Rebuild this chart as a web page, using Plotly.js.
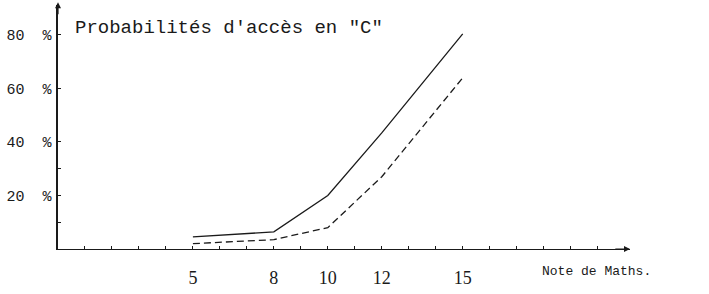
<!DOCTYPE html>
<html>
<head>
<meta charset="utf-8">
<script src="https://cdn.plot.ly/plotly-3.0.1.min.js"></script>
<style>html,body{margin:0;padding:0;background:#fff;}#chart{width:709px;height:294px;}</style>
</head>
<body>
<div id="chart"></div>
<script>
// Data
const notes = [5, 8, 10, 12, 15];
const probSolid = [4.5, 6.4, 20, 43.4, 80.4];
const probDashed = [2, 3.5, 8, 27, 64];

// Axis ticks and labels
const xTickVals = [1,2,3,4,5,6,7,8,9,10,11,12,13,14,15,16,17,18,19,20];
const xLabeled = [5, 8, 10, 12, 15];
const yTickVals = [10, 20, 30, 40, 60, 80];
const yLabeled = [20, 40, 60, 80];

const xMax = 21.2, yMax = 91.2;
const NB = '\u00a0';

const xTickText = xTickVals.map(v => xLabeled.includes(v) ? String(v) : '');
const yTickText = yTickVals.map(v => yLabeled.includes(v) ? (v + NB + NB + '%') : '');

const ink = '#1a1a1a';

const traces = [
  {x: notes, y: probSolid, mode: 'lines', line: {color: ink, width: 1.3}, hoverinfo: 'skip'},
  {x: notes, y: probDashed, mode: 'lines', line: {color: ink, width: 1.3, dash: '7px,4px'}, hoverinfo: 'skip'}
];

const layout = {
  width: 709, height: 294,
  margin: {l: 58, r: 79, t: 5, b: 45},
  paper_bgcolor: '#fff', plot_bgcolor: '#fff',
  showlegend: false,
  xaxis: {
    range: [0, xMax], showgrid: false, zeroline: false,
    showline: true, linecolor: ink, linewidth: 1.3,
    tickmode: 'array', tickvals: xTickVals, ticktext: xTickText,
    ticks: 'inside', ticklen: 3, tickwidth: 1, tickcolor: ink,
    ticklabelstandoff: 12,
    tickfont: {family: 'Liberation Serif', size: 18, color: ink}
  },
  yaxis: {
    range: [0, yMax], showgrid: false, zeroline: false,
    showline: true, linecolor: ink, linewidth: 1.6,
    tickmode: 'array', tickvals: yTickVals, ticktext: yTickText,
    ticks: 'inside', ticklen: 3, tickwidth: 1, tickcolor: ink,
    ticklabelstandoff: 2,
    tickfont: {family: 'Liberation Mono', size: 15, color: ink}
  },
  annotations: [
    {xref: 'paper', yref: 'paper', x: 0.026, y: 0.906, xanchor: 'left', yanchor: 'middle',
     text: 'Probabilités d\'accès en "C"', showarrow: false,
     font: {family: 'Liberation Mono', size: 19, color: ink}},
    {xref: 'paper', yref: 'paper', x: 0.942, y: -0.094, xanchor: 'center', yanchor: 'middle',
     text: 'Note de Maths.', showarrow: false,
     font: {family: 'Liberation Mono', size: 13, color: ink}},
    {xref: 'x', yref: 'y', axref: 'x', ayref: 'y', x: xMax, y: 0, ax: xMax - 0.6, ay: 0,
     text: '', showarrow: true, arrowhead: 2, arrowsize: 1, arrowwidth: 1.2, arrowcolor: ink},
    {xref: 'x', yref: 'y', axref: 'x', ayref: 'y', x: 0, y: yMax + 1, ax: 0, ay: yMax - 4,
     text: '', showarrow: true, arrowhead: 2, arrowsize: 1, arrowwidth: 1.2, arrowcolor: ink}
  ]
};

Plotly.newPlot('chart', traces, layout, {staticPlot: true, displayModeBar: false});
</script>
</body>
</html>
